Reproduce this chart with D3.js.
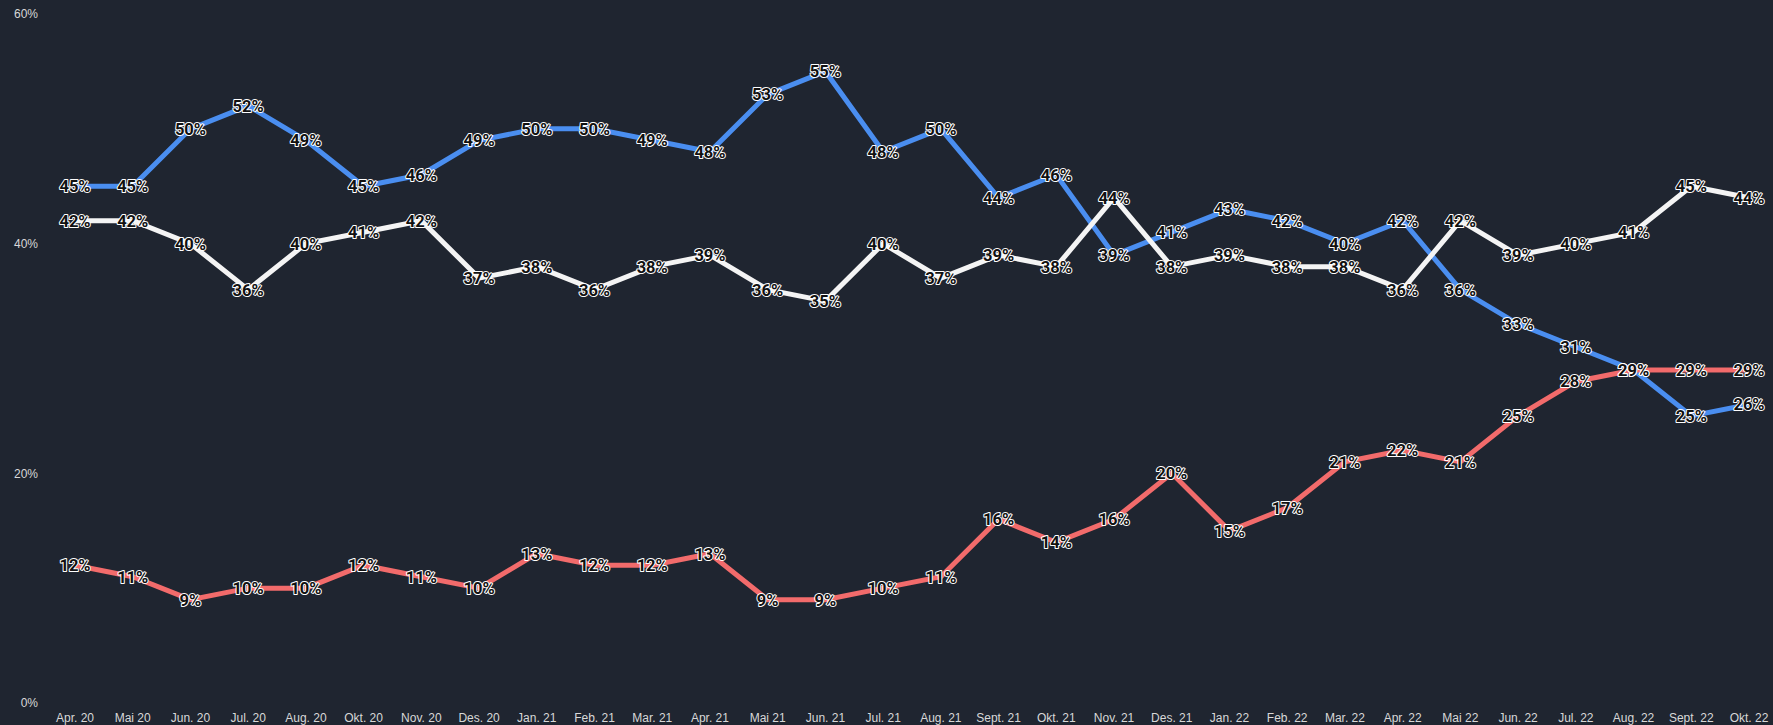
<!DOCTYPE html>
<html>
<head>
<meta charset="utf-8">
<script src="https://cdn.jsdelivr.net/npm/d3@7"></script>
<style>
  html, body { margin: 0; padding: 0; background: #1f2530; }
  svg { display: block; }
</style>
</head>
<body>
<svg id="chart"></svg>
<script>
var width = 1773;
var height = 725;

var months = ["Apr. 20", "Mai 20", "Jun. 20", "Jul. 20", "Aug. 20", "Okt. 20", "Nov. 20", "Des. 20",
    "Jan. 21", "Feb. 21", "Mar. 21", "Apr. 21", "Mai 21", "Jun. 21", "Jul. 21", "Aug. 21",
    "Sept. 21", "Okt. 21", "Nov. 21", "Des. 21", "Jan. 22", "Feb. 22", "Mar. 22", "Apr. 22",
    "Mai 22", "Jun. 22", "Jul. 22", "Aug. 22", "Sept. 22", "Okt. 22"];

var blueValues = [45, 45, 50, 52, 49, 45, 46, 49, 50, 50, 49, 48, 53, 55, 48, 50, 44, 46, 39, 41,
    43, 42, 40, 42, 36, 33, 31, 29, 25, 26];
var whiteValues = [42, 42, 40, 36, 40, 41, 42, 37, 38, 36, 38, 39, 36, 35, 40, 37, 39, 38, 44, 38,
    39, 38, 38, 36, 42, 39, 40, 41, 45, 44];
var redValues = [12, 11, 9, 10, 10, 12, 11, 10, 13, 12, 12, 13, 9, 9, 10, 11, 16, 14, 16, 20,
    15, 17, 21, 22, 21, 25, 28, 29, 29, 29];

var yTicks = [0, 20, 40, 60];

var series = [
    { name: "blue", color: "#4a8ef0", values: blueValues },
    { name: "white", color: "#f4f4f4", values: whiteValues },
    { name: "red", color: "#f26b6b", values: redValues }
];

var svg = d3.select("svg#chart")
    .attr("width", width)
    .attr("height", height);

var x = d3.scalePoint()
    .domain(months)
    .range([75, 1749]);

var y = d3.scaleLinear()
    .domain([0, 60])
    .range([703, 14]);

// y axis labels
svg.append("g")
    .selectAll("text")
    .data(yTicks)
    .enter().append("text")
        .attr("x", 38)
        .attr("y", d => y(d))
        .attr("dy", "0.35em")
        .attr("text-anchor", "end")
        .attr("fill", "#d8d8d8")
        .style("font", "12px 'Liberation Sans', Arial, sans-serif")
        .text(d => d + "%");

// x axis labels
svg.append("g")
    .selectAll("text")
    .data(months)
    .enter().append("text")
        .attr("x", d => x(d))
        .attr("y", 718)
        .attr("dy", "0.35em")
        .attr("text-anchor", "middle")
        .attr("fill", "#d8d8d8")
        .style("font", "12px 'Liberation Sans', Arial, sans-serif")
        .text(d => d);

var line = d3.line()
    .x((d, i) => x(months[i]))
    .y(d => y(d));

svg.append("g")
    .selectAll("path")
    .data(series)
    .enter().append("path")
        .attr("fill", "none")
        .attr("stroke", d => d.color)
        .attr("stroke-width", 5)
        .attr("stroke-linejoin", "miter")
        .attr("d", d => line(d.values));

// point labels
series.forEach(function (s) {
    svg.append("g")
        .selectAll("text")
        .data(s.values)
        .enter().append("text")
            .attr("x", (d, i) => x(months[i]))
            .attr("y", d => y(d))
            .attr("dy", "0.36em")
            .attr("text-anchor", "middle")
            .attr("fill", "#111")
            .attr("stroke", "#fff")
            .attr("stroke-width", 2)
            .attr("paint-order", "stroke")
            .attr("stroke-linejoin", "round")
            .style("font", "bold 16.5px Roboto, 'Noto Sans', sans-serif")
            .text(d => d + "%");
});
</script>
</body>
</html>
